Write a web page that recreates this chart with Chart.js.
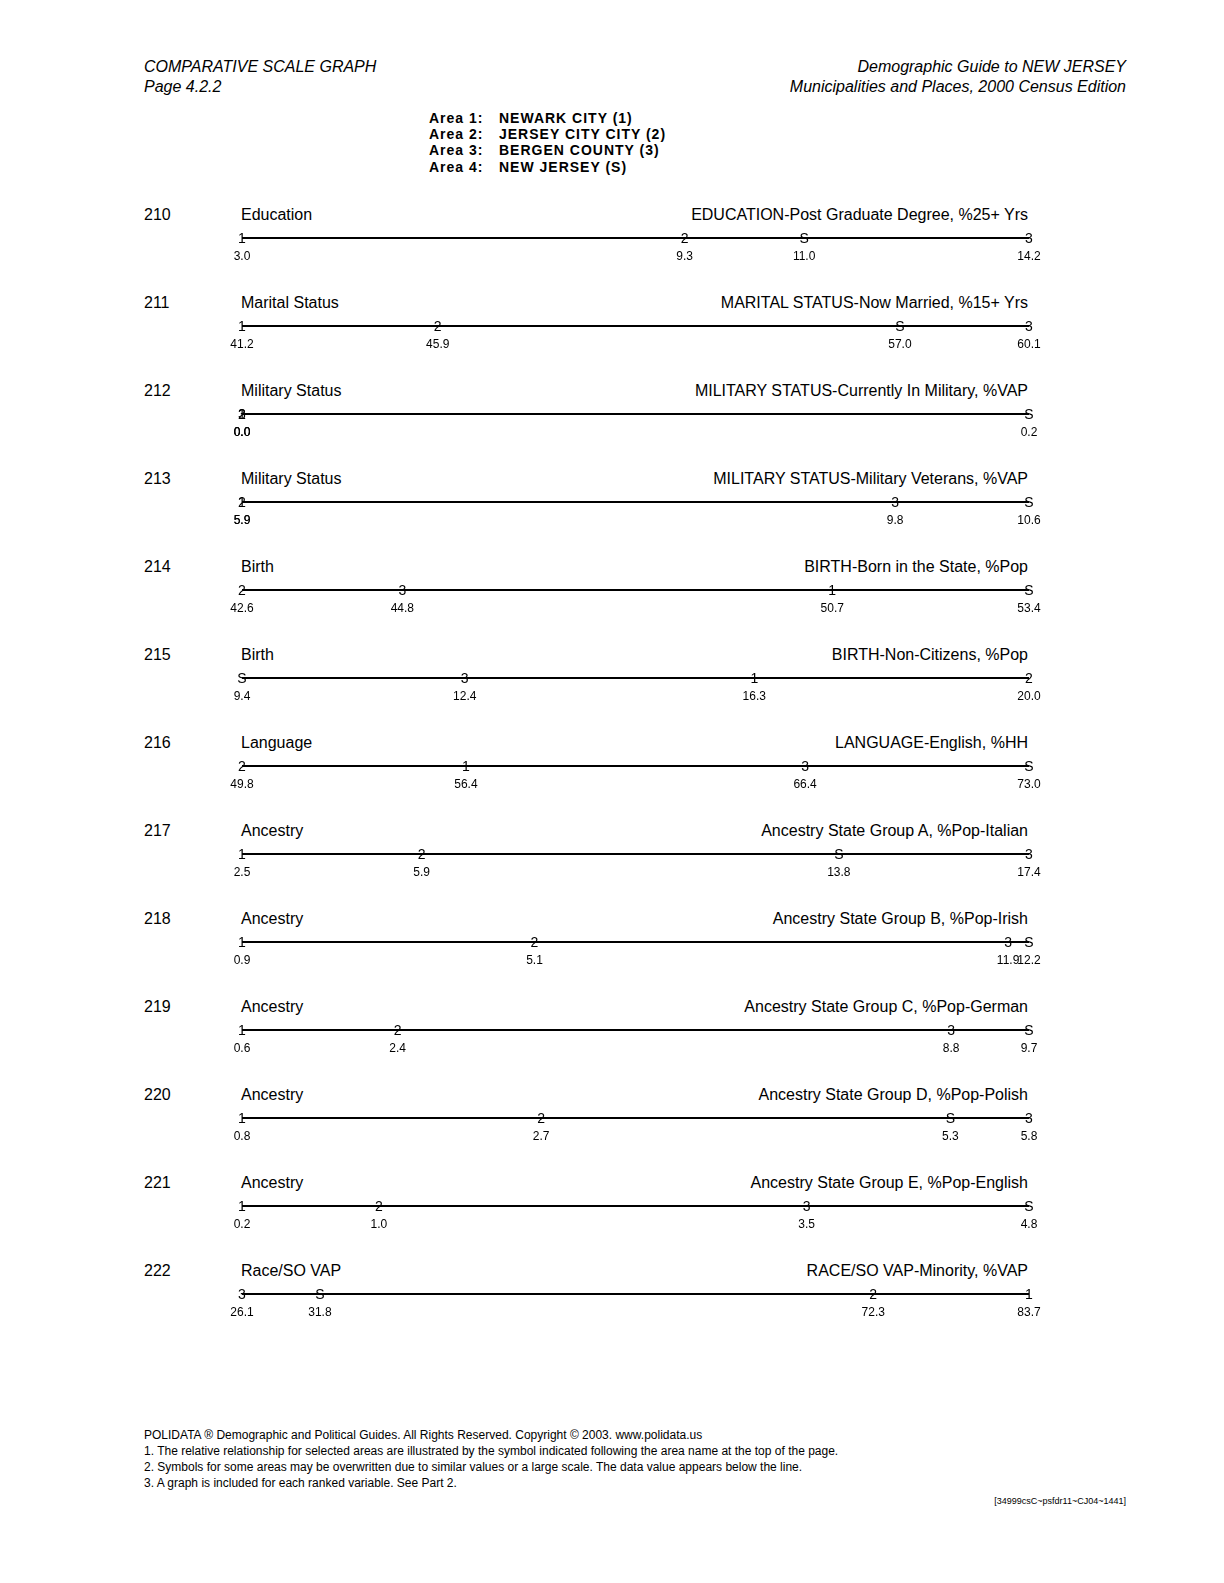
<!DOCTYPE html>
<html>
<head>
<meta charset="UTF-8">
<title>Comparative Scale Graph</title>
<style>
body { margin: 0; background: #fff; color: #000; font-family: "Liberation Sans", Arial, Helvetica, sans-serif; }
.page { position: relative; width: 1224px; height: 1583px; overflow: hidden; }
.t { position: absolute; white-space: nowrap; line-height: 1; }
.hdr { font-size: 16px; font-style: italic; }
.right { text-align: right; }
.area { font-size: 14px; font-weight: bold; letter-spacing: 1px; }
.rownum, .grp, .ttl { font-size: 16px; }
.foot { font-size: 12px; }
.code { font-size: 9px; }
canvas { position: absolute; }
</style>
</head>
<body>
<div class="page" id="page">
    <div class="t hdr" style="left:144px; top:59px;">COMPARATIVE SCALE GRAPH</div>
    <div class="t hdr" style="left:144px; top:79px;">Page 4.2.2</div>
    <div class="t hdr right" style="right:98px; top:59px;">Demographic Guide to NEW JERSEY</div>
    <div class="t hdr right" style="right:98px; top:79px;">Municipalities and Places, 2000 Census Edition</div>

    <div class="t foot" style="left:144px; top:1429px;">POLIDATA &reg; Demographic and Political Guides. All Rights Reserved. Copyright &copy; 2003. www.polidata.us</div>
    <div class="t foot" style="left:144px; top:1445px;">1. The relative relationship for selected areas are illustrated by the symbol indicated following the area name at the top of the page.</div>
    <div class="t foot" style="left:144px; top:1461px;">2. Symbols for some areas may be overwritten due to similar values or a large scale. The data value appears below the line.</div>
    <div class="t foot" style="left:144px; top:1477px;">3. A graph is included for each ranked variable. See Part 2.</div>
    <div class="t code right" style="right:98px; top:1497px;">[34999csC~psfdr11~CJ04~1441]</div>
</div>

<script src="https://cdn.jsdelivr.net/npm/chart.js"></script>
<script>
// areas shown at the top and the symbol used for each
const areaNames = ['NEWARK CITY (1)', 'JERSEY CITY CITY (2)', 'BERGEN COUNTY (3)', 'NEW JERSEY (S)'];
const symbols = ['1', '2', '3', 'S'];

// one entry per ranked variable
const rowIds = [210, 211, 212, 213, 214, 215, 216, 217, 218, 219, 220, 221, 222];
const groups = ['Education', 'Marital Status', 'Military Status', 'Military Status', 'Birth', 'Birth',
    'Language', 'Ancestry', 'Ancestry', 'Ancestry', 'Ancestry', 'Ancestry', 'Race/SO VAP'];
const titles = [
    'EDUCATION-Post Graduate Degree, %25+ Yrs',
    'MARITAL STATUS-Now Married, %15+ Yrs',
    'MILITARY STATUS-Currently In Military, %VAP',
    'MILITARY STATUS-Military Veterans, %VAP',
    'BIRTH-Born in the State, %Pop',
    'BIRTH-Non-Citizens, %Pop',
    'LANGUAGE-English, %HH',
    'Ancestry State Group A, %Pop-Italian',
    'Ancestry State Group B, %Pop-Irish',
    'Ancestry State Group C, %Pop-German',
    'Ancestry State Group D, %Pop-Polish',
    'Ancestry State Group E, %Pop-English',
    'RACE/SO VAP-Minority, %VAP'
];

const area1 = [3.0, 41.2, 0.0, 5.9, 50.7, 16.3, 56.4, 2.5, 0.9, 0.6, 0.8, 0.2, 83.7];
const area2 = [9.3, 45.9, 0.0, 5.9, 42.6, 20.0, 49.8, 5.9, 5.1, 2.4, 2.7, 1.0, 72.3];
const area3 = [14.2, 60.1, 0.0, 9.8, 44.8, 12.4, 66.4, 17.4, 11.9, 8.8, 5.8, 3.5, 26.1];
const areaS = [11.0, 57.0, 0.2, 10.6, 53.4, 9.4, 73.0, 13.8, 12.2, 9.7, 5.3, 4.8, 31.8];

const FONT = '"Liberation Sans", Arial, Helvetica, sans-serif';
const page = document.getElementById('page');

function addText(cls, text, left, top, style) {
    const d = document.createElement('div');
    d.className = 't ' + cls;
    d.textContent = text;
    d.style.left = left + 'px';
    d.style.top = top + 'px';
    if (style) Object.assign(d.style, style);
    page.appendChild(d);
    return d;
}

// legend
areaNames.forEach((name, i) => {
    addText('area', 'Area ' + (i + 1) + ':', 429, 111 + i * 16.2);
    addText('area', name, 499, 111 + i * 16.2);
});

// symbols + values drawn on top of the line
const symbolPlugin = {
    id: 'symbols',
    afterDatasetsDraw(chart) {
        const ctx = chart.ctx;
        const meta = chart.getDatasetMeta(1);
        const ds = chart.data.datasets[1];
        ctx.save();
        ctx.fillStyle = '#000';
        ctx.textAlign = 'center';
        ctx.textBaseline = 'alphabetic';
        meta.data.forEach((pt, i) => {
            ctx.font = '14px ' + FONT;
            ctx.fillText(ds.symbols[i], pt.x, pt.y + 5);
            ctx.font = '12px ' + FONT;
            ctx.fillText(ds.data[i].x.toFixed(1), pt.x, pt.y + 22);
        });
        ctx.restore();
    }
};

const charts = [];
rowIds.forEach((id, r) => {
    const titleTop = 206.5 + r * 88;
    addText('rownum', String(id), 144, titleTop);
    addText('grp', groups[r], 241, titleTop);
    addText('ttl right', titles[r], 0, titleTop, { left: 'auto', right: (1224 - 1028) + 'px' });

    const vals = [area1[r], area2[r], area3[r], areaS[r]];
    const lo = Math.min(...vals);
    const hi = Math.max(...vals);

    const cv = document.createElement('canvas');
    cv.width = 847;
    cv.height = 50;
    cv.style.left = '212px';
    cv.style.top = (213 + r * 88) + 'px';
    page.appendChild(cv);

    charts.push(new Chart(cv.getContext('2d'), {
        type: 'scatter',
        data: {
            datasets: [{
                type: 'line',
                data: [{ x: lo, y: 0.5 }, { x: hi, y: 0.5 }],
                borderColor: '#000',
                borderWidth: 2,
                pointRadius: 0,
                clip: false
            }, {
                data: vals.map(v => ({ x: v, y: 0.5 })),
                symbols: symbols,
                pointRadius: 0,
                showLine: false
            }]
        },
        options: {
            responsive: false,
            animation: false,
            layout: { padding: { left: 30, right: 30, top: 0, bottom: 0 } },
            plugins: { legend: { display: false }, tooltip: { enabled: false } },
            scales: {
                x: { type: 'linear', min: lo, max: hi, display: false },
                y: { min: 0, max: 1, display: false }
            }
        },
        plugins: [symbolPlugin]
    }));
});
</script>
</body>
</html>
